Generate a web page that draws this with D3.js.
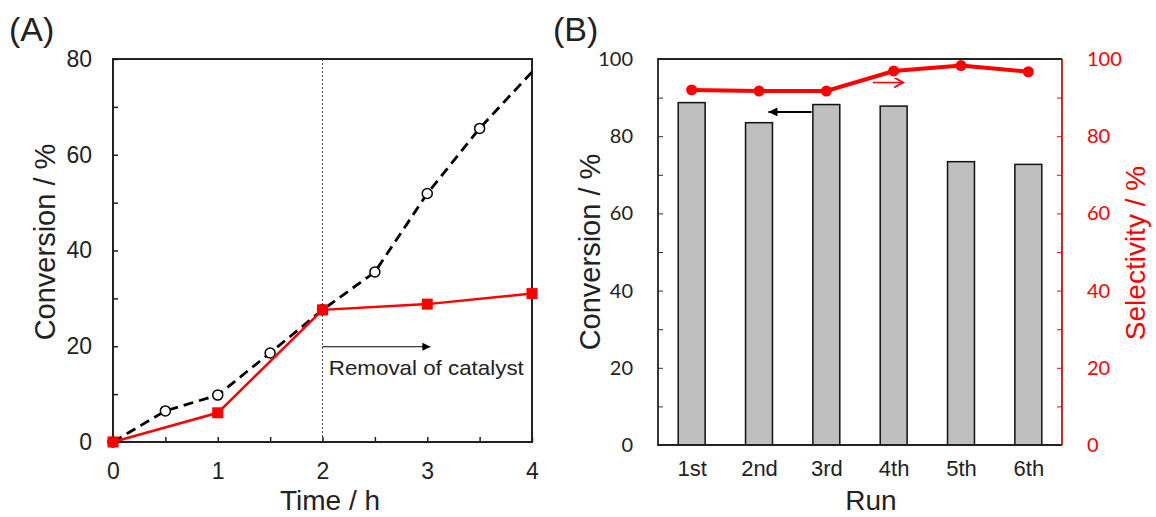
<!DOCTYPE html>
<html>
<head>
<meta charset="utf-8">
<script src="https://cdn.jsdelivr.net/npm/d3@7"></script>
<style>
  body { margin: 0; background: #fff; }
  svg { display: block; }
  .arial { font-family: "Liberation Sans", Arial, sans-serif; }
  .calib { font-family: Lato, "Open Sans", sans-serif; }
</style>
</head>
<body>
<svg id="fig" width="1156" height="517"></svg>
<script>
// (A) time course, with and without catalyst removal at 2 h
var timeNoRemoval = [0, 0.5, 1, 1.5, 2, 2.5, 3, 3.5, 4];
var convNoRemoval = [0, 6.5, 9.8, 18.6, 27.6, 35.5, 51.9, 65.5, 77.3];
var timeRemoval = [0, 1, 2, 3, 4];
var convRemoval = [0, 6.1, 27.6, 28.8, 31.0];
var timeTicks = [0, 1, 2, 3, 4];
var convTicksA = [0, 20, 40, 60, 80];

// (B) recycling runs
var runs = ["1st", "2nd", "3rd", "4th", "5th", "6th"];
var runConversion = [88.7, 83.5, 88.2, 87.8, 73.4, 72.7];
var runSelectivity = [92.0, 91.7, 91.7, 96.9, 98.3, 96.7];
var convTicksB = [0, 20, 40, 60, 80, 100];
var selTicks = [0, 20, 40, 60, 80, 100];

var RED = "#ff0000";
var svg = d3.select("#fig");

// arrowheads
var defs = svg.append("defs");
defs.append("marker")
  .attr("id", "headBlack")
  .attr("viewBox", "0 0 10 10")
  .attr("refX", 10).attr("refY", 5)
  .attr("markerWidth", 11).attr("markerHeight", 8)
  .attr("markerUnits", "userSpaceOnUse")
  .attr("orient", "auto")
  .append("path").attr("d", "M0,0L10,5L0,10Z").attr("fill", "#000");
defs.append("marker")
  .attr("id", "headBlackB")
  .attr("viewBox", "0 0 10 10")
  .attr("refX", 10).attr("refY", 5)
  .attr("markerWidth", 12).attr("markerHeight", 9)
  .attr("markerUnits", "userSpaceOnUse")
  .attr("orient", "auto")
  .append("path").attr("d", "M0,0L10,5L0,10Z").attr("fill", "#000");
defs.append("marker")
  .attr("id", "headRedOpen")
  .attr("viewBox", "0 0 10 10")
  .attr("refX", 9).attr("refY", 5)
  .attr("markerWidth", 12).attr("markerHeight", 10)
  .attr("markerUnits", "userSpaceOnUse")
  .attr("orient", "auto")
  .append("path").attr("d", "M0,0L9,5L0,10").attr("fill", "none")
  .attr("stroke", RED).attr("stroke-width", 1.8);

function makeTimeChart() {
  var left = 113, right = 532, top = 59, bottom = 442;
  var x = d3.scaleLinear().domain([0, 4]).range([left, right]);
  var y = d3.scaleLinear().domain([0, 80]).range([bottom, top]);
  var g = svg.append("g").attr("class", "arial");

  // axes, ticks inward
  var yAxis = g.append("g")
    .attr("transform", `translate(${left},0)`)
    .call(d3.axisLeft(y)
      .tickValues(d3.range(0, 81, 10))
      .tickSize(-5).tickSizeOuter(0).tickPadding(21)
      .tickFormat((d) => (convTicksA.indexOf(d) >= 0 ? d : "")));
  var xAxis = g.append("g")
    .attr("transform", `translate(0,${bottom})`)
    .call(d3.axisBottom(x)
      .tickValues(d3.range(0, 4.01, 0.5))
      .tickSize(-5).tickSizeOuter(0).tickPadding(21)
      .tickFormat((d) => (timeTicks.indexOf(d) >= 0 ? d : "")));
  [yAxis, xAxis].forEach(function (a) {
    a.select(".domain").remove();
    a.selectAll(".tick line").attr("stroke", "#222").attr("stroke-width", 1.5);
    a.selectAll("text").attr("font-size", 23).attr("fill", "#222")
      .attr("font-family", null);
  });

  // frame
  g.append("rect")
    .attr("x", left).attr("y", top)
    .attr("width", right - left).attr("height", bottom - top)
    .attr("fill", "none").attr("stroke", "#222").attr("stroke-width", 2);

  // removal point
  g.append("line")
    .attr("x1", x(2)).attr("x2", x(2))
    .attr("y1", top).attr("y2", bottom)
    .attr("stroke", "#444").attr("stroke-width", 1)
    .attr("stroke-dasharray", "2,2");

  var line = d3.line().x((d) => x(d[0])).y((d) => y(d[1]));

  var noRem = d3.zip(timeNoRemoval, convNoRemoval);
  g.append("path")
    .datum(noRem)
    .attr("d", line)
    .attr("fill", "none").attr("stroke", "#000")
    .attr("stroke-width", 2.8).attr("stroke-dasharray", "10,6");
  g.selectAll(".circ")
    .data(noRem.filter((d) => d[0] < 4))
    .enter().append("circle")
    .attr("class", "circ")
    .attr("cx", (d) => x(d[0])).attr("cy", (d) => y(d[1]))
    .attr("r", 5)
    .attr("fill", "#fff").attr("stroke", "#000").attr("stroke-width", 1.5);

  var rem = d3.zip(timeRemoval, convRemoval);
  g.append("path")
    .datum(rem)
    .attr("d", line)
    .attr("fill", "none").attr("stroke", RED).attr("stroke-width", 2.5);
  g.selectAll(".sq")
    .data(rem)
    .enter().append("rect")
    .attr("class", "sq")
    .attr("x", (d) => x(d[0]) - 5.5).attr("y", (d) => y(d[1]) - 5.5)
    .attr("width", 11).attr("height", 11)
    .attr("fill", RED);

  // annotation
  g.append("line")
    .attr("x1", x(2)).attr("x2", x(3.03))
    .attr("y1", y(19.9)).attr("y2", y(19.9))
    .attr("stroke", "#000").attr("stroke-width", 1.2)
    .attr("marker-end", "url(#headBlack)");
  g.append("text")
    .attr("x", x(2.06)).attr("y", y(13.9))
    .attr("font-size", 21).attr("fill", "#222")
    .attr("textLength", 195).attr("lengthAdjust", "spacingAndGlyphs")
    .text("Removal of catalyst");

  // titles
  g.append("text")
    .attr("transform", "translate(55,242) rotate(-90)")
    .attr("text-anchor", "middle")
    .attr("font-size", 29).attr("fill", "#222")
    .text("Conversion  / %");
  g.append("text")
    .attr("x", 330).attr("y", 510)
    .attr("text-anchor", "middle")
    .attr("font-size", 28).attr("fill", "#222")
    .text("Time / h");
  g.append("text")
    .attr("x", 9).attr("y", 41)
    .attr("font-size", 34).attr("fill", "#222")
    .text("(A)");
}

function makeRunChart() {
  var left = 658, right = 1062, top = 59, bottom = 445;
  var idx = runs.map((d, i) => i);
  var x = d3.scaleLinear().domain([-0.5, runs.length - 0.5]).range([left, right]);
  var y = d3.scaleLinear().domain([0, 100]).range([bottom, top]);
  var ySel = d3.scaleLinear().domain([0, 100]).range([bottom, top]);
  var step = x(1) - x(0);
  var barW = step * 0.4;
  var g = svg.append("g").attr("class", "arial");

  // bars
  g.selectAll(".bar")
    .data(idx)
    .enter().append("rect")
    .attr("class", "bar")
    .attr("x", (i) => x(i) - barW / 2)
    .attr("y", (i) => y(runConversion[i]))
    .attr("width", barW)
    .attr("height", (i) => bottom - y(runConversion[i]))
    .attr("fill", "#bfbfbf").attr("stroke", "#111").attr("stroke-width", 1.5);

  // axes
  var yAxis = g.append("g")
    .attr("transform", `translate(${left},0)`)
    .call(d3.axisLeft(y)
      .tickValues(d3.range(0, 101, 10))
      .tickSize(-5).tickSizeOuter(0).tickPadding(25)
      .tickFormat((d) => (convTicksB.indexOf(d) >= 0 ? d : "")));
  var rAxis = g.append("g")
    .attr("transform", `translate(${right},0)`)
    .call(d3.axisRight(ySel)
      .tickValues(d3.range(0, 101, 10))
      .tickSize(-5).tickSizeOuter(0).tickPadding(25)
      .tickFormat((d) => (selTicks.indexOf(d) >= 0 ? d : "")));
  var xAxis = g.append("g")
    .attr("transform", `translate(0,${bottom})`)
    .call(d3.axisBottom(x)
      .tickValues(idx)
      .tickSize(0).tickPadding(15)
      .tickFormat((i) => runs[i]));
  [yAxis, rAxis, xAxis].forEach(function (a) {
    a.select(".domain").remove();
    a.selectAll("text").attr("font-family", null);
  });
  yAxis.selectAll(".tick line").attr("stroke", "#333").attr("stroke-width", 1);
  yAxis.selectAll("text").attr("class", "calib").attr("font-size", 20).attr("fill", "#222");
  rAxis.selectAll(".tick line").attr("stroke", RED).attr("stroke-width", 1);
  rAxis.selectAll("text").attr("class", "calib").attr("font-size", 20).attr("fill", RED);
  xAxis.selectAll("text").attr("font-size", 22).attr("fill", "#222");

  // frame
  g.append("path")
    .attr("d", `M${right},${top}H${left}V${bottom}H${right}`)
    .attr("fill", "none").attr("stroke", "#222").attr("stroke-width", 1.8);
  g.append("line")
    .attr("x1", right).attr("x2", right).attr("y1", top).attr("y2", bottom)
    .attr("stroke", "#d01010").attr("stroke-width", 1.8);

  // selectivity
  g.append("path")
    .datum(idx)
    .attr("d", d3.line().x((i) => x(i)).y((i) => ySel(runSelectivity[i])))
    .attr("fill", "none").attr("stroke", RED).attr("stroke-width", 4);
  g.selectAll(".dot")
    .data(idx)
    .enter().append("circle")
    .attr("class", "dot")
    .attr("cx", (i) => x(i)).attr("cy", (i) => ySel(runSelectivity[i]))
    .attr("r", 5.5).attr("fill", RED);

  // axis arrows
  g.append("line")
    .attr("x1", x(1.78)).attr("x2", x(1.14))
    .attr("y1", y(86.3)).attr("y2", y(86.3))
    .attr("stroke", "#000").attr("stroke-width", 2)
    .attr("marker-end", "url(#headBlackB)");
  g.append("line")
    .attr("x1", x(2.69)).attr("x2", x(3.14))
    .attr("y1", ySel(93.9)).attr("y2", ySel(93.9))
    .attr("stroke", RED).attr("stroke-width", 1.6)
    .attr("marker-end", "url(#headRedOpen)");

  // titles
  g.append("text")
    .attr("transform", "translate(600,252) rotate(-90)")
    .attr("text-anchor", "middle")
    .attr("font-size", 29).attr("fill", "#222")
    .text("Conversion  / %");
  g.append("text")
    .attr("transform", "translate(1145,253) rotate(-90)")
    .attr("text-anchor", "middle")
    .attr("font-size", 28).attr("fill", RED)
    .text("Selectivity  / %");
  g.append("text")
    .attr("x", 871).attr("y", 510)
    .attr("text-anchor", "middle")
    .attr("font-size", 28).attr("fill", "#222")
    .text("Run");
  g.append("text")
    .attr("x", 553).attr("y", 41)
    .attr("font-size", 34).attr("fill", "#222")
    .text("(B)");
}

makeTimeChart();
makeRunChart();
</script>
</body>
</html>
